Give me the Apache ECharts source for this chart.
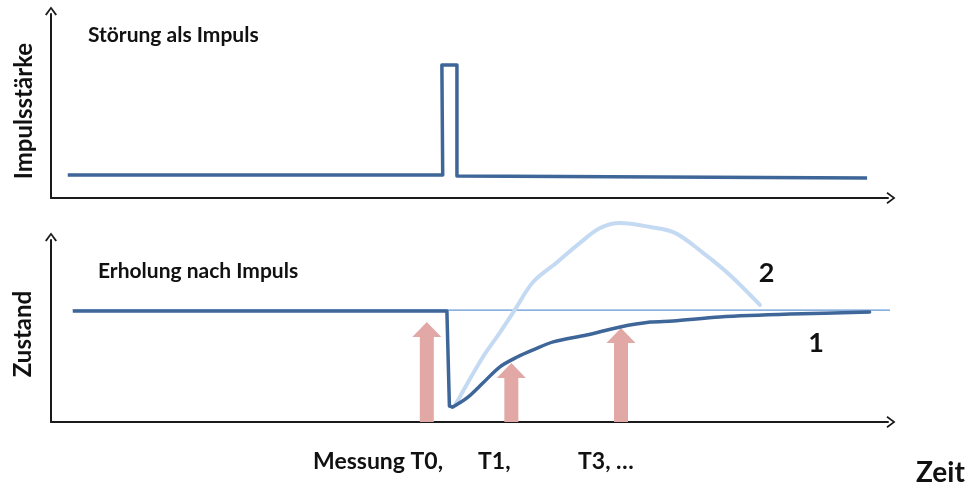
<!DOCTYPE html>
<html>
<head>
<meta charset="utf-8">
<script src="https://cdn.jsdelivr.net/npm/echarts@6/dist/echarts.min.js"></script>
<style>
html,body{margin:0;padding:0;background:#fff;}
#chart{width:967px;height:491px;}
</style>
</head>
<body>
<div id="chart"></div>
<script>
// ---- data (time units 0..100, state units 0..100) ----
var impulse = [[2.0,12.5],[46.8,12.5],[46.7,72.3],[48.5,72.3],[48.5,12.0],[97.5,10.9]];
var reference = [[2.6,61.5],[105.0,61.5]];
var curve1Drop = [[2.6,61.0],[47.3,61.0],[47.6,8.8],[48.0,8.2]];
var curve1Recovery = [[48.0,8.2],[49.7,13.2],[51.6,21.4],[53.6,30.2],[55.7,35.7],[57.6,39.6],[60.0,44.0],[64.0,47.8],[68.0,52.2],[71.6,54.9],[74.3,55.5],[79.9,57.7],[88.3,59.3],[97.8,60.4]];
var curve2 = [[48.3,9.3],[51.6,35.7],[53.6,48.9],[55.4,61.5],[57.6,76.9],[60.5,87.9],[63.2,98.4],[65.6,106.6],[68.0,109.3],[71.6,107.1],[74.6,103.8],[77.9,92.9],[81.1,80.8],[84.7,64.3]];
var measurements = [[44.9,54.9],[55.0,32.4],[68.1,51.6]];
var curveLabels = [[85.5,81.9,'2'],[91.4,43.4,'1']];
var timeLabels = ['Messung T0,','T1,','T3, \u2026'];
var titles = ['St\u00f6rung als Impuls','Erholung nach Impuls'];
var axisNames = ['Impulsst\u00e4rke','Zustand','Zeit'];

var FONT = 'Lato, "Open Sans", sans-serif';
var AX = '#1a1a1a';
var chevron = 'path://M6,0 L12,8 L10.4,9 L6,2.8 L1.6,9 L0,8 Z';
function axisLine(){
  return {show:true, onZero:false, symbol:['none', chevron], symbolSize:[12,9], symbolOffset:[0,3],
          lineStyle:{color:AX, width:2}};
}
function xAx(g){return {type:'value', gridIndex:g, min:0, max:100, axisLine:axisLine(), axisTick:{show:false}, axisLabel:{show:false}, splitLine:{show:false}};}
function yAx(g){return {type:'value', gridIndex:g, min:0, max:100, axisLine:axisLine(), axisTick:{show:false}, axisLabel:{show:false}, splitLine:{show:false}};}

var DARK = '#3e6698', LIGHT = '#c4daf2', THIN = '#6397d6', PINK = '#e1a8a5';
function txt(s, size){ return {text:s, font:'bold '+size+'px '+FONT, fill:'#111'}; }

var chart = echarts.init(document.getElementById('chart'), null, {renderer:'canvas'});
chart.setOption({
  animation:false,
  backgroundColor:'#ffffff',
  grid:[
    {left:51, top:14, width:837, height:184},
    {left:51, top:240, width:837, height:182}
  ],
  xAxis:[xAx(0), xAx(1)],
  yAxis:[yAx(0), yAx(1)],
  graphic:[
    {type:'text', left:88, top:25, style:txt(titles[0], 21)},
    {type:'text', left:98, top:261, style:txt(titles[1], 21)},
    {type:'text', x:24, y:111, rotation:Math.PI/2, style:Object.assign(txt(axisNames[0], 24), {align:'center', verticalAlign:'middle'})},
    {type:'text', x:23, y:334, rotation:Math.PI/2, style:Object.assign(txt(axisNames[1], 24), {align:'center', verticalAlign:'middle'})},
    {type:'text', left:313, top:450, style:txt(timeLabels[0], 23)},
    {type:'text', left:478, top:450, style:txt(timeLabels[1], 23)},
    {type:'text', left:578, top:450, style:txt(timeLabels[2], 23)},
    {type:'text', left:916, top:459, style:txt(axisNames[2], 28)}
  ],
  series:[
    {type:'line', xAxisIndex:0, yAxisIndex:0, data:impulse, showSymbol:false, clip:false,
     lineStyle:{color:DARK, width:3.5, join:'round'}, z:3},
    {type:'custom', xAxisIndex:1, yAxisIndex:1, data:measurements, z:1, clip:false,
     renderItem:function(params, api){
       var b = api.coord([api.value(0), 0]);
       var t = api.coord([api.value(0), api.value(1)]);
       var sw = 7, hw = 14.5, hh = 15;
       return {type:'polygon', shape:{points:[
         [b[0]-sw,b[1]],[b[0]-sw,t[1]+hh],[b[0]-hw,t[1]+hh],[b[0],t[1]],
         [b[0]+hw,t[1]+hh],[b[0]+sw,t[1]+hh],[b[0]+sw,b[1]]]},
         style:{fill:PINK}};
     }},
    {type:'line', xAxisIndex:1, yAxisIndex:1, data:reference, showSymbol:false, clip:false,
     lineStyle:{color:THIN, width:1.3}, z:2},
    {type:'line', xAxisIndex:1, yAxisIndex:1, data:curve2, showSymbol:false, clip:false, smooth:0.35,
     lineStyle:{color:LIGHT, width:4, cap:'round'}, z:3},
    {type:'line', xAxisIndex:1, yAxisIndex:1, data:curve1Drop, showSymbol:false, clip:false,
     lineStyle:{color:DARK, width:3.5, join:'round'}, z:4},
    {type:'line', xAxisIndex:1, yAxisIndex:1, data:curve1Recovery, showSymbol:false, clip:false, smooth:0.3,
     lineStyle:{color:DARK, width:3.5, cap:'round'}, z:4},
    {type:'scatter', xAxisIndex:1, yAxisIndex:1, data:curveLabels, symbolSize:1, itemStyle:{opacity:0}, z:5,
     label:{show:true, position:'inside', formatter:function(p){return p.data[2];},
            fontFamily:FONT, fontWeight:'bold', fontSize:27, color:'#111', opacity:1}}
  ]
});
</script>
</body>
</html>
